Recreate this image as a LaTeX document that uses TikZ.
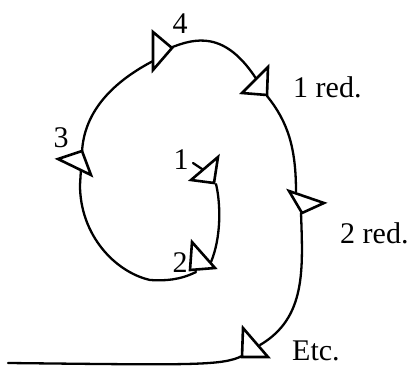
\documentclass[tikz,border=0pt]{standalone}
\usepackage{fontspec}
\setmainfont{Liberation Serif}
\begin{document}
\begin{tikzpicture}[x=1pt,y=-1pt,
  curve/.style={line width=2.3pt,line cap=round,line join=round},
  marker/.style={draw,fill=white,line width=2.6pt,line join=miter},
  lab/.style={inner sep=0pt,font=\fontsize{30}{30}\selectfont}]
\useasboundingbox (0,0) rectangle (412,366);
% spiral path
\draw[curve] (193,163) -- (205,171);
\draw[curve] (216,184) .. controls (221,205) and (221,238) .. (211,262);
\draw[curve] (196,272) .. controls (180,280) and (165,281) .. (150,280)
  .. controls (115,272) and (80,235) .. (80,185) -- (82,152)
  .. controls (84,112) and (112,82) .. (155,60);
\draw[curve] (170,48) .. controls (195,38) and (225,30) .. (257,80);
\draw[curve] (267,96) .. controls (288,122) and (296,148) .. (296,192);
\draw[curve] (301,213) .. controls (303,270) and (306,318) .. (260,345);
\draw[curve] (242,356) .. controls (222,366) and (190,365) .. (8,363);
% triangles
\draw[marker] (191,180) -- (218,157) -- (214,183) -- cycle;
\draw[marker] (192,242) -- (215,268) -- (190,270) -- cycle;
\draw[marker] (58,159) -- (82,151) -- (91,175) -- cycle;
\draw[marker] (153,32) -- (153,70) -- (172,48) -- cycle;
\draw[marker] (242,93) -- (268,67) -- (267,95) -- cycle;
\draw[marker] (289,191) -- (324,203) -- (302,213) -- cycle;
\draw[marker] (243,328) -- (268,357) -- (242,357) -- cycle;
% labels
\node[lab] (l1) at (181,160) {1};
\node[lab] (l2) at (180,263) {2};
\node[lab] (l3) at (61,138) {3};
\node[lab] (l4) at (180,24) {4};
\node[lab,anchor=base west] (r1) at (293,98) {1 red.};
\node[lab,anchor=base west] (r2) at (340,243) {2 red.};
\node[lab,anchor=base west] (etc) at (292,360) {Etc.};
\end{tikzpicture}
\end{document}
